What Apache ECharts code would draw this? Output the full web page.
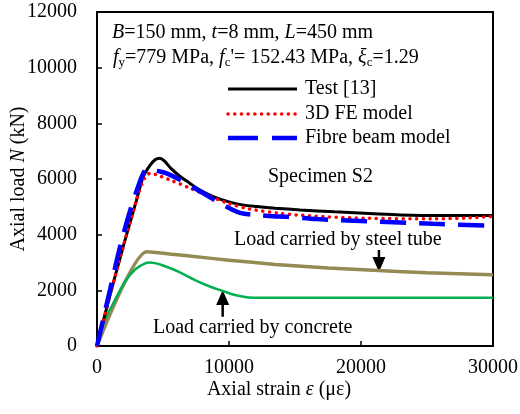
<!DOCTYPE html>
<html><head><meta charset="utf-8">
<script src="https://cdn.jsdelivr.net/npm/echarts@6/dist/echarts.min.js"></script>
<style>html,body{margin:0;padding:0;background:#fff}#c{width:520px;height:414px}</style>
</head><body><div id="c"></div>
<script>
// ---- data ----
var xTicks = [0, 10000, 20000, 30000];
var yTicks = [0, 2000, 4000, 6000, 8000, 10000, 12000];
var legendNames = ['Test [13]', '3D FE model', 'Fibre beam model'];

var testStrain = [0, 500, 1000, 2000, 3000, 3500, 4000, 4400, 4750, 5100, 5600, 6300, 7000, 7800, 8800, 10000, 11000, 12100, 13500, 15400, 18000, 21000, 23000, 26000, 30000];
var testLoad   = [0, 950, 1850, 3600, 5250, 6080, 6480, 6690, 6750, 6650, 6380, 6090, 5860, 5600, 5370, 5180, 5070, 5010, 4950, 4890, 4820, 4750, 4710, 4690, 4690];

var feStrain = [0, 1000, 2000, 3000, 3500, 3800, 4050, 4500, 5500, 7000, 8500, 10000, 11600, 13800, 15100, 17500, 20400, 25500, 28000, 30000];
var feLoad   = [0, 1850, 3600, 5250, 5950, 6150, 6210, 6150, 5970, 5680, 5380, 5120, 4920, 4770, 4710, 4640, 4590, 4570, 4600, 4660];

var fibreStrain = [0, 1000, 1750, 2500, 3200, 3500, 3760, 4200, 4770, 5280, 6290, 8050, 9320, 10830, 12350, 13350, 14370, 16640, 20430, 25480, 30000];
var fibreLoad   = [0, 2050, 3570, 4850, 5850, 6200, 6360, 6320, 6270, 6200, 5970, 5490, 5130, 4780, 4700, 4660, 4640, 4560, 4480, 4390, 4320];

var tubeStrain = [0, 3760, 7000, 10000, 13500, 17500, 21310, 25000, 30000];
var tubeLoad   = [0, 3390, 3230, 3085, 2930, 2800, 2710, 2630, 2560];

var concStrain = [0, 600, 1360, 2120, 2880, 3640, 4020, 4900, 6160, 7420, 8690, 9440, 10450, 11460, 12500, 20000, 30000];
var concLoad   = [0, 930, 1650, 2310, 2750, 2970, 3000, 2910, 2670, 2370, 2110, 1990, 1830, 1745, 1735, 1735, 1735];

// arrows: [strain, from load, to load (tip)]
var arrowStrain = [21360, 9520];
var arrowFrom   = [3450, 1050];
var arrowTo     = [2660, 2010];

function zip(a, b) { return a.map(function (v, i) { return [v, b[i]]; }); }

var FONT = 'Liberation Serif';
var styles = {
  test: {color: '#000', width: 3, type: 'solid'},
  fe: {color: '#ff0000', width: 3.5, type: [0.1, 6.6], cap: 'round'},
  fibre: {color: '#0000ff', width: 4.5, type: [26, 13]}
};
var legendStyles = [styles.test, styles.fe, styles.fibre];
var legendRowY = [89, 114, 138];

var chart = echarts.init(document.getElementById('c'), null, {renderer: 'canvas'});

var graphics = [
  {type: 'text', style: {x: 112, y: 33, verticalAlign: 'middle',
    text: '{i|B}=150 mm, {i|t}=8 mm, {i|L}=450 mm',
    fontFamily: FONT, fontSize: 20, fill: '#000',
    rich: {i: {fontStyle: 'italic', fontFamily: FONT, fontSize: 20}}}},
  {type: 'text', style: {x: 113, y: 58, verticalAlign: 'middle',
    text: '{i|f}{s|y}=779 MPa, {i|f}{s|c}\'= 152.43 MPa, {i|ξ}{s|c}=1.29',
    fontFamily: FONT, fontSize: 20, fill: '#000',
    rich: {
      i: {fontStyle: 'italic', fontFamily: FONT, fontSize: 20, lineHeight: 22},
      s: {fontFamily: FONT, fontSize: 13, lineHeight: 13, padding: [9, 0, 0, 0], verticalAlign: 'bottom'}
    }}},
  {type: 'text', style: {x: 268, y: 177, verticalAlign: 'middle', text: 'Specimen S2',
    fontFamily: FONT, fontSize: 20, fill: '#000'}},
  {type: 'text', style: {x: 234, y: 240, verticalAlign: 'middle', text: 'Load carried by steel tube',
    fontFamily: FONT, fontSize: 20, fill: '#000'}},
  {type: 'text', style: {x: 153, y: 328, verticalAlign: 'middle', text: 'Load carried by concrete',
    fontFamily: FONT, fontSize: 20, fill: '#000'}}
];
legendNames.forEach(function (nm, i) {
  var st = legendStyles[i];
  graphics.push({type: 'line', silent: true,
    shape: {x1: 228, y1: legendRowY[i], x2: 297, y2: legendRowY[i]},
    style: {stroke: st.color, lineWidth: st.width,
      lineDash: st.type === 'solid' ? null : (i === 2 ? [30, 14] : st.type),
      lineCap: st.cap || 'butt'}});
  graphics.push({type: 'text', silent: true,
    style: {x: 305, y: legendRowY[i], verticalAlign: 'middle', text: nm,
      fontFamily: FONT, fontSize: 20, fill: '#000'}});
});

var option = {
  animation: false,
  backgroundColor: '#fff',
  textStyle: {fontFamily: FONT, color: '#000'},
  grid: {left: 97, right: 27, top: 12, bottom: 68, containLabel: false, outerBoundsMode: 'none',
    show: true, borderColor: '#000', borderWidth: 2, backgroundColor: 'transparent'},
  legend: {show: false},
  xAxis: {
    type: 'value', min: xTicks[0], max: xTicks[xTicks.length - 1], interval: 10000,
    axisLine: {lineStyle: {color: '#000', width: 2}},
    axisTick: {inside: true, length: 5, lineStyle: {color: '#000', width: 1.5}},
    axisLabel: {color: '#000', fontFamily: FONT, fontSize: 20, margin: 12, formatter: function (v) { return String(v); }},
    splitLine: {show: false},
    name: 'Axial strain {i|ε} (με)', nameLocation: 'middle', nameGap: 34, nameMoveOverlap: false,
    nameTextStyle: {color: '#000', fontFamily: FONT, fontSize: 20, padding: [0, 32, 0, 0],
      rich: {i: {fontStyle: 'italic', fontFamily: FONT, fontSize: 20}}}
  },
  yAxis: {
    type: 'value', min: yTicks[0], max: yTicks[yTicks.length - 1], interval: 2000,
    axisLine: {show: true, lineStyle: {color: '#000', width: 2}},
    axisTick: {show: true, inside: true, length: 5, lineStyle: {color: '#000', width: 1.5}},
    axisLabel: {color: '#000', fontFamily: FONT, fontSize: 20, margin: 20, formatter: function (v) { return String(v); }},
    splitLine: {show: false},
    name: 'Axial load {i|N} (kN)', nameLocation: 'middle', nameGap: 68, nameMoveOverlap: false,
    nameTextStyle: {color: '#000', fontFamily: FONT, fontSize: 20,
      rich: {i: {fontStyle: 'italic', fontFamily: FONT, fontSize: 20}}}
  },
  series: [
    {name: 'Steel tube', type: 'line', data: zip(tubeStrain, tubeLoad), symbol: 'none', smooth: 0.2,
      lineStyle: {color: '#948a54', width: 3.5}},
    {name: 'Concrete', type: 'line', data: zip(concStrain, concLoad), symbol: 'none', smooth: 0.3,
      lineStyle: {color: '#00b050', width: 2.5}},
    {name: legendNames[0], type: 'line', data: zip(testStrain, testLoad), symbol: 'none', smooth: 0.3,
      itemStyle: {color: '#000'}, lineStyle: styles.test},
    {name: legendNames[1], type: 'line', data: zip(feStrain, feLoad), symbol: 'none', smooth: 0.3,
      itemStyle: {color: '#ff0000'}, lineStyle: styles.fe},
    {name: legendNames[2], type: 'line', data: zip(fibreStrain, fibreLoad), symbol: 'none', smooth: 0.3,
      itemStyle: {color: '#0000ff'}, lineStyle: styles.fibre},
    {name: 'arrows', type: 'custom', silent: true,
      data: arrowStrain.map(function (x, i) { return [x, arrowFrom[i], arrowTo[i]]; }),
      encode: {x: 0, y: [1, 2]},
      renderItem: function (params, api) {
        var p1 = api.coord([api.value(0), api.value(1)]);
        var p2 = api.coord([api.value(0), api.value(2)]);
        var dir = p2[1] > p1[1] ? 1 : -1;
        var hh = 15, hw = 6.5;
        var base = p2[1] - dir * hh;
        return {type: 'group', children: [
          {type: 'line', shape: {x1: p1[0], y1: p1[1], x2: p1[0], y2: base + dir * 1},
            style: {stroke: '#000', lineWidth: 2.5}},
          {type: 'polygon', shape: {points: [[p2[0], p2[1]], [p2[0] - hw, base], [p2[0] + hw, base]]},
            style: {fill: '#000'}}
        ]};
      }}
  ],
  graphic: graphics
};
chart.setOption(option);
</script>
</body></html>
